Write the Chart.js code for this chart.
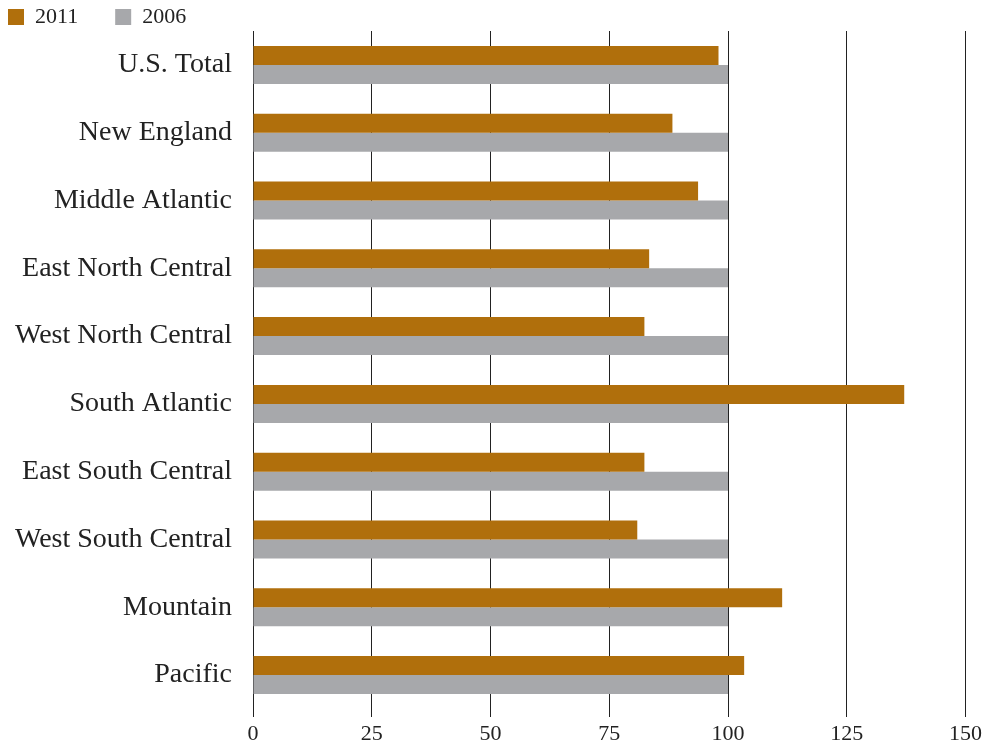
<!DOCTYPE html>
<html>
<head>
<meta charset="utf-8">
<script src="https://cdn.jsdelivr.net/npm/chart.js@4/dist/chart.umd.min.js"></script>
<style>
  html, body { margin: 0; padding: 0; background: #fff; }
  #wrap { position: relative; width: 986px; height: 746px; }
</style>
</head>
<body>
<div id="wrap"><canvas id="c" width="986" height="746"></canvas></div>
<script>
const categories = ["U.S. Total", "New England", "Middle Atlantic", "East North Central", "West North Central", "South Atlantic", "East South Central", "West South Central", "Mountain", "Pacific"];
const values2011 = [98, 88.3, 93.7, 83.4, 82.4, 137.1, 82.4, 80.9, 111.4, 103.4];
const values2006 = [100, 100, 100, 100, 100, 100, 100, 100, 100, 100];
const seriesNames = ["2011", "2006"];
const seriesColors = ["#B06F0C", "#A7A8AB"];
const xMin = 0, xMax = 150, xStep = 25;

const SERIF = "'Liberation Serif', 'Times New Roman', serif";
const LEGEND_PAD = 37;

const legendPlacer = {
  id: 'legendPlacer',
  afterLayout(chart) {
    const lg = chart.legend;
    if (lg) { lg.left = 8 - LEGEND_PAD; lg.top = 6 - LEGEND_PAD; }
  }
};

new Chart(document.getElementById('c'), {
  type: 'bar',
  data: {
    labels: categories,
    datasets: [
      { label: seriesNames[0], data: values2011, backgroundColor: seriesColors[0], borderWidth: 0, barPercentage: 1, categoryPercentage: 0.5605 },
      { label: seriesNames[1], data: values2006, backgroundColor: seriesColors[1], borderWidth: 0, barPercentage: 1, categoryPercentage: 0.5605 }
    ]
  },
  options: {
    indexAxis: 'y',
    responsive: false,
    animation: false,
    devicePixelRatio: 1,
    layout: { padding: { left: 0, right: 19, top: 0, bottom: 0 } },
    plugins: {
      legend: {
        display: true,
        position: 'top',
        align: 'start',
        maxHeight: 31,
        labels: {
          boxWidth: 16,
          boxHeight: 16,
          padding: LEGEND_PAD,
          color: '#222',
          font: { family: SERIF, size: 22 }
        }
      },
      tooltip: { enabled: false }
    },
    scales: {
      x: {
        type: 'linear',
        position: 'bottom',
        min: xMin,
        max: xMax,
        z: 1,
        afterFit(scale) { scale.height = 37; },
        ticks: { stepSize: xStep, color: '#222', padding: 4, font: { family: SERIF, size: 22 } },
        grid: { color: '#222', lineWidth: 1, drawTicks: true, tickLength: 8, tickColor: '#222' },
        border: { display: false }
      },
      y: {
        afterFit(scale) { scale.width = 253; scale.paddingTop = 0; scale.paddingBottom = 0; },
        ticks: { color: '#222', padding: 21, font: { family: SERIF, size: 28 } },
        grid: { display: false, drawTicks: false },
        border: { display: false }
      }
    }
  },
  plugins: [legendPlacer]
});
</script>
</body>
</html>
